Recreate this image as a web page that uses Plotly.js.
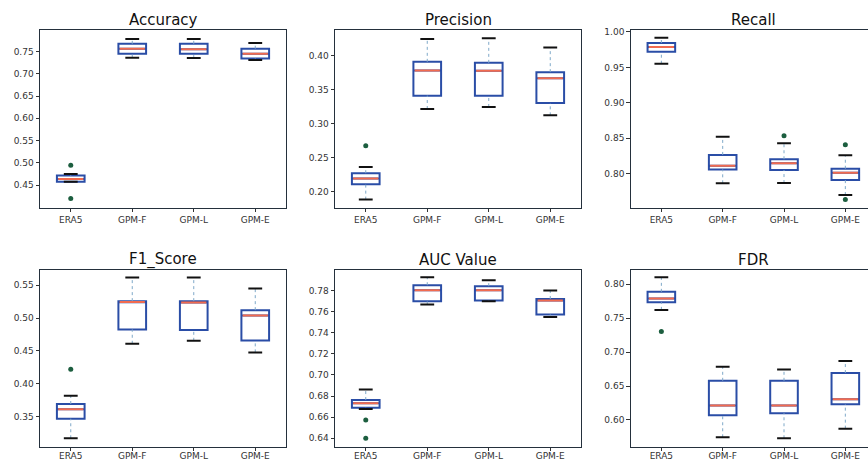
<!DOCTYPE html>
<html>
<head>
<meta charset="utf-8">
<script src="https://cdn.plot.ly/plotly-3.0.1.min.js"></script>
<style>
html,body{margin:0;padding:0;overflow:hidden;background:#fff;}
#chart{width:880px;height:462px;}
</style>
</head>
<body>
<div id="chart"></div>
<script>
// ---- data ----
const categories = ['ERA5', 'GPM-F', 'GPM-L', 'GPM-E'];
const metricTitles = ['Accuracy', 'Precision', 'Recall', 'F1_Score', 'AUC Value', 'FDR'];

const accuracyQ1  = [0.458, 0.745, 0.745, 0.734];
const accuracyMed = [0.464, 0.756, 0.755, 0.745];
const accuracyQ3  = [0.4715, 0.767, 0.767, 0.756];
const accuracyLo  = [0.458, 0.736, 0.735, 0.731];
const accuracyHi  = [0.475, 0.778, 0.778, 0.769];
const accuracyOutCat = ['ERA5', 'ERA5'];
const accuracyOutVal = [0.495, 0.420];

const precisionQ1  = [0.2112, 0.3415, 0.3415, 0.3307];
const precisionMed = [0.2196, 0.3783, 0.378, 0.367];
const precisionQ3  = [0.2274, 0.3912, 0.3897, 0.376];
const precisionLo  = [0.1886, 0.3218, 0.3248, 0.3125];
const precisionHi  = [0.2367, 0.4246, 0.426, 0.4123];
const precisionOutCat = ['ERA5'];
const precisionOutVal = [0.2677];

const recallQ1  = [0.9722, 0.806, 0.8052, 0.791];
const recallMed = [0.9787, 0.8113, 0.8147, 0.8014];
const recallQ3  = [0.9844, 0.8265, 0.8204, 0.807];
const recallLo  = [0.9552, 0.7864, 0.7868, 0.7698];
const recallHi  = [0.992, 0.852, 0.8431, 0.826];
const recallOutCat = ['GPM-L', 'GPM-E', 'GPM-E'];
const recallOutVal = [0.8535, 0.8407, 0.7637];

const f1Q1  = [0.347, 0.4827, 0.4817, 0.466];
const f1Med = [0.3612, 0.5245, 0.5235, 0.504];
const f1Q3  = [0.3693, 0.5257, 0.5257, 0.512];
const f1Lo  = [0.3172, 0.4609, 0.4654, 0.4478];
const f1Hi  = [0.3819, 0.5617, 0.5617, 0.545];
const f1OutCat = ['ERA5'];
const f1OutVal = [0.422];

const aucQ1  = [0.6689, 0.7699, 0.7705, 0.7573];
const aucMed = [0.6731, 0.7803, 0.7803, 0.7705];
const aucQ3  = [0.6762, 0.785, 0.7841, 0.772];
const aucLo  = [0.6677, 0.7668, 0.7699, 0.755];
const aucHi  = [0.6863, 0.7926, 0.7897, 0.780];
const aucOutCat = ['ERA5', 'ERA5'];
const aucOutVal = [0.6573, 0.640];

const fdrQ1  = [0.7734, 0.607, 0.610, 0.6233];
const fdrMed = [0.7789, 0.6212, 0.6212, 0.6307];
const fdrQ3  = [0.7888, 0.6577, 0.6577, 0.6691];
const fdrLo  = [0.7622, 0.5745, 0.573, 0.5872];
const fdrHi  = [0.8103, 0.6784, 0.6744, 0.6868];
const fdrOutCat = ['ERA5'];
const fdrOutVal = [0.7305];

const yTicks = [
  [0.45, 0.50, 0.55, 0.60, 0.65, 0.70, 0.75],
  [0.20, 0.25, 0.30, 0.35, 0.40],
  [0.80, 0.85, 0.90, 0.95, 1.00],
  [0.35, 0.40, 0.45, 0.50, 0.55],
  [0.64, 0.66, 0.68, 0.70, 0.72, 0.74, 0.76, 0.78],
  [0.60, 0.65, 0.70, 0.75, 0.80]
];
const yRanges = [
  [0.400, 0.798], [0.177, 0.438], [0.7523, 1.0028],
  [0.3044, 0.5738], [0.632, 0.7999], [0.5606, 0.8217]
];

// ---- build ----
const metrics = [
  {q1: accuracyQ1, med: accuracyMed, q3: accuracyQ3, lo: accuracyLo, hi: accuracyHi, oc: accuracyOutCat, ov: accuracyOutVal},
  {q1: precisionQ1, med: precisionMed, q3: precisionQ3, lo: precisionLo, hi: precisionHi, oc: precisionOutCat, ov: precisionOutVal},
  {q1: recallQ1, med: recallMed, q3: recallQ3, lo: recallLo, hi: recallHi, oc: recallOutCat, ov: recallOutVal},
  {q1: f1Q1, med: f1Med, q3: f1Q3, lo: f1Lo, hi: f1Hi, oc: f1OutCat, ov: f1OutVal},
  {q1: aucQ1, med: aucMed, q3: aucQ3, lo: aucLo, hi: aucHi, oc: aucOutCat, ov: aucOutVal},
  {q1: fdrQ1, med: fdrMed, q3: fdrQ3, lo: fdrLo, hi: fdrHi, oc: fdrOutCat, ov: fdrOutVal}
];

const W = 880, H = 462;
const colPx = [[40, 286], [335, 581], [630.7, 876]];
const rowPx = [[30, 207.5], [269.5, 446.7]];
const BOXW = 0.45, CAPW = 0.225;
const pos = categories.map((c, i) => i + 1);

const boxBlue = '#2a4da6';
const medColor = '#f26b4f';
const whiskColor = '#7fa9c9';
const capColor = '#111111';
const outColor = '#1c5e3f';
const frame = '#24303c';

const traces = [];
const layout = {
  width: W, height: H,
  margin: {l: 0, r: 0, t: 0, b: 0},
  paper_bgcolor: '#fff', plot_bgcolor: '#fff',
  showlegend: false,
  font: {family: 'DejaVu Sans', size: 9, color: '#333'},
  annotations: []
};

metrics.forEach((m, k) => {
  const n = k + 1;
  const xa = 'x' + (n === 1 ? '' : n), ya = 'y' + (n === 1 ? '' : n);
  const col = k % 3, row = Math.floor(k / 3);
  const xd = [colPx[col][0] / W, Math.min(colPx[col][1] / W, 1)];
  const yd = [1 - rowPx[row][1] / H, 1 - rowPx[row][0] / H];

  // whiskers (dotted)
  const wx = [], wy = [];
  pos.forEach((p, i) => {
    wx.push(p, p, null, p, p, null);
    wy.push(m.q3[i], m.hi[i], null, m.lo[i], m.q1[i], null);
  });
  traces.push({type: 'scatter', mode: 'lines', x: wx, y: wy, xaxis: xa, yaxis: ya,
    line: {color: whiskColor, width: 1, dash: 'dot'}, hoverinfo: 'skip'});

  // box body
  traces.push({type: 'box', x: pos, q1: m.q1, median: m.med, q3: m.q3,
    lowerfence: m.q1, upperfence: m.q3, width: BOXW, whiskerwidth: 0,
    xaxis: xa, yaxis: ya, line: {color: boxBlue, width: 2},
    fillcolor: 'rgba(255,255,255,0)', boxpoints: false});

  // caps
  const cx = [], cy = [];
  pos.forEach((p, i) => {
    cx.push(p - CAPW / 2, p + CAPW / 2, null, p - CAPW / 2, p + CAPW / 2, null);
    cy.push(m.hi[i], m.hi[i], null, m.lo[i], m.lo[i], null);
  });
  traces.push({type: 'scatter', mode: 'lines', x: cx, y: cy, xaxis: xa, yaxis: ya,
    line: {color: capColor, width: 2}, hoverinfo: 'skip'});

  // medians
  const mx = [], my = [];
  pos.forEach((p, i) => {
    mx.push(p - BOXW / 2 + 0.02, p + BOXW / 2 - 0.02, null);
    my.push(m.med[i], m.med[i], null);
  });
  traces.push({type: 'scatter', mode: 'lines', x: mx, y: my, xaxis: xa, yaxis: ya,
    line: {color: medColor, width: 2}, hoverinfo: 'skip'});

  // outliers
  traces.push({type: 'scatter', mode: 'markers',
    x: m.oc.map(c => categories.indexOf(c) + 1), y: m.ov, xaxis: xa, yaxis: ya,
    marker: {color: outColor, size: 5, line: {width: 0}}, hoverinfo: 'skip'});

  const axBase = {showgrid: false, zeroline: false, showline: true, mirror: true,
    linecolor: frame, linewidth: 1, ticks: 'outside', ticklen: 3.5, tickwidth: 1,
    tickcolor: '#333', tickfont: {family: 'DejaVu Sans', size: 9, color: '#333'}, fixedrange: true};

  layout['xaxis' + (n === 1 ? '' : n)] = Object.assign({}, axBase, {
    domain: xd, anchor: ya, range: [0.5, 4.5], tickmode: 'array',
    tickvals: pos, ticktext: categories,
    ticklabelstandoff: row === 1 ? -3 : 0
  });
  layout['yaxis' + (n === 1 ? '' : n)] = Object.assign({}, axBase, {
    domain: yd, anchor: xa, range: yRanges[k], tickmode: 'array',
    tickvals: yTicks[k], ticktext: yTicks[k].map(v => v.toFixed(2))
  });

  layout.annotations.push({
    text: metricTitles[k], showarrow: false, xref: 'paper', yref: 'paper',
    x: (colPx[col][0] + colPx[col][1]) / 2 / W, y: yd[1],
    xanchor: 'center', yanchor: 'bottom', yshift: -1,
    font: {family: 'DejaVu Sans', size: 15, color: '#111'}
  });
});

Plotly.newPlot('chart', traces, layout, {displayModeBar: false, staticPlot: true});
</script>
</body>
</html>
